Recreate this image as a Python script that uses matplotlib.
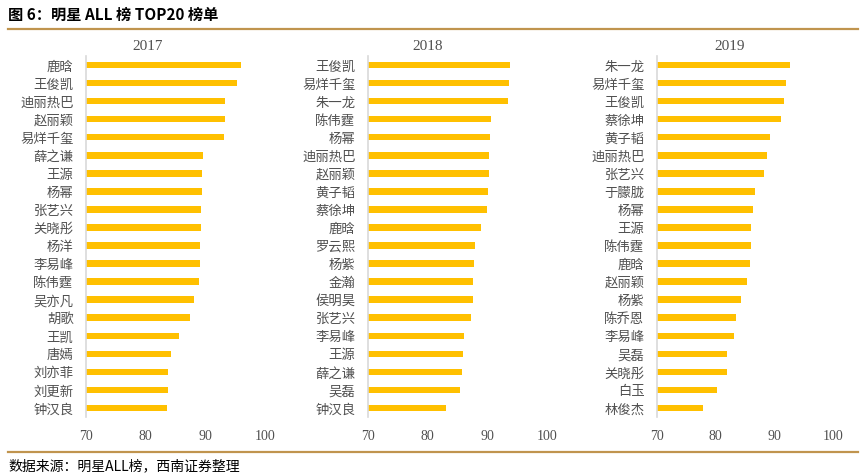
import matplotlib
matplotlib.use("Agg")
import matplotlib.pyplot as plt
from matplotlib.lines import Line2D

plt.rcParams["font.family"] = ["Noto Sans CJK SC", "DejaVu Sans"]

# ============================================================
# Data
# ============================================================
years = ["2017", "2018", "2019"]

names_2017 = ["鹿晗", "王俊凯", "迪丽热巴", "赵丽颖", "易烊千玺", "薛之谦", "王源", "杨幂", "张艺兴", "关晓彤",
              "杨洋", "李易峰", "陈伟霆", "吴亦凡", "胡歌", "王凯", "唐嫣", "刘亦菲", "刘更新", "钟汉良"]
scores_2017 = [96.0, 95.3, 93.3, 93.3, 93.1, 89.6, 89.5, 89.4, 89.3, 89.3,
               89.1, 89.1, 89.0, 88.1, 87.5, 85.6, 84.2, 83.8, 83.8, 83.5]

names_2018 = ["王俊凯", "易烊千玺", "朱一龙", "陈伟霆", "杨幂", "迪丽热巴", "赵丽颖", "黄子韬", "蔡徐坤", "鹿晗",
              "罗云熙", "杨紫", "金瀚", "侯明昊", "张艺兴", "李易峰", "王源", "薛之谦", "吴磊", "钟汉良"]
scores_2018 = [93.8, 93.6, 93.4, 90.6, 90.4, 90.3, 90.3, 90.1, 90.0, 88.9,
               88.0, 87.7, 87.6, 87.6, 87.3, 86.1, 86.0, 85.7, 85.4, 83.0]

names_2019 = ["朱一龙", "易烊千玺", "王俊凯", "蔡徐坤", "黄子韬", "迪丽热巴", "张艺兴", "于朦胧", "杨幂", "王源",
              "陈伟霆", "鹿晗", "赵丽颖", "杨紫", "陈乔恩", "李易峰", "吴磊", "关晓彤", "白玉", "林俊杰"]
scores_2019 = [92.7, 92.0, 91.7, 91.2, 89.2, 88.8, 88.3, 86.7, 86.4, 86.1,
               86.0, 85.8, 85.3, 84.3, 83.5, 83.1, 81.9, 81.9, 80.3, 77.8]

x_ticks = [70, 80, 90, 100]

panels = [(names_2017, scores_2017), (names_2018, scores_2018), (names_2019, scores_2019)]

# ============================================================
# Layout
# ============================================================
W, H = 864, 474
fig = plt.figure(figsize=(W / 100, H / 100), dpi=100)

bar_color = "#FFC000"
gold = "#C0944E"
text_gray = "#505050"

# axes pixel boxes: (left, right)
boxes = [(86, 265), (368, 547), (657, 833)]
top_px, bottom_px = 56, 417
title_x = [148, 428, 730]

for (names, scores), (l, r), yr, tx in zip(panels, boxes, years, title_x):
    ax = fig.add_axes([l / W, 1 - bottom_px / H, (r - l) / W, (bottom_px - top_px) / H])
    pos = list(range(len(names)))
    ax.barh(pos, [s - 70 for s in scores], left=70, height=0.36, color=bar_color)
    ax.set_xlim(70, 100)
    ax.set_ylim(len(names) - 0.5, -0.5)
    ax.set_yticks(pos)
    ax.set_yticklabels(names, fontsize=9.6, color=text_gray)
    ax.set_xticks(x_ticks)
    ax.set_xticklabels([str(t) for t in x_ticks], family="Liberation Serif", fontsize=10, color=text_gray)
    ax.tick_params(axis="both", length=0)
    ax.tick_params(axis="y", pad=9)
    ax.tick_params(axis="x", pad=9)
    for side in ["top", "right", "bottom"]:
        ax.spines[side].set_visible(False)
    ax.spines["left"].set_color("#D9D9D9")
    ax.spines["left"].set_linewidth(1.2)
    fig.text(tx / W, 1 - 46 / H, yr, ha="center", va="center",
             family="Liberation Serif", fontsize=11, color=text_gray)

# title and source
fig.text(8 / W, 1 - 15 / H, "图 6：明星 ALL 榜 TOP20 榜单", ha="left", va="center",
         fontsize=11, fontweight="bold", color="#000000")
fig.add_artist(Line2D([8 / W, 858 / W], [1 - 29 / H, 1 - 29 / H], color=gold, lw=1.6,
                      transform=fig.transFigure))
fig.add_artist(Line2D([8 / W, 858 / W], [1 - 452 / H, 1 - 452 / H], color=gold, lw=1.6,
                      transform=fig.transFigure))
fig.text(8 / W, 1 - 466 / H, "数据来源：明星ALL榜，西南证券整理", ha="left", va="center",
         fontsize=10, style="italic", color="#000000")

fig.savefig("out.png", dpi=100, facecolor="white")
